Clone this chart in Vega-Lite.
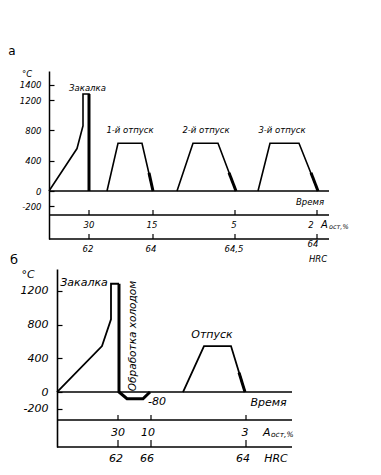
{
  "$schema": "https://vega.github.io/schema/vega-lite/v6.json",
  "padding": {"left": 8, "top": 44, "right": 0, "bottom": 0},
  "bounds": "flush",
  "spacing": 30,
  "config": {
    "view": {"stroke": null},
    "text": {"font": "DejaVu Sans", "fontStyle": "italic", "color": "black"}
  },
  "datasets": {
    "a_thin": [
      {"seg": "q", "i": 1, "x": 0, "t": 0},
      {"seg": "q", "i": 2, "x": 28, "t": 560},
      {"seg": "q", "i": 3, "x": 34, "t": 860},
      {"seg": "q", "i": 4, "x": 34, "t": 1280},
      {"seg": "q", "i": 5, "x": 40, "t": 1280},
      {"seg": "q", "i": 6, "x": 40, "t": 0},
      {"seg": "t1", "i": 1, "x": 58, "t": 0},
      {"seg": "t1", "i": 2, "x": 69, "t": 630},
      {"seg": "t1", "i": 3, "x": 93, "t": 630},
      {"seg": "t1", "i": 4, "x": 104, "t": 0},
      {"seg": "t2", "i": 1, "x": 128, "t": 0},
      {"seg": "t2", "i": 2, "x": 144, "t": 630},
      {"seg": "t2", "i": 3, "x": 169, "t": 630},
      {"seg": "t2", "i": 4, "x": 187, "t": 0},
      {"seg": "t3", "i": 1, "x": 209, "t": 0},
      {"seg": "t3", "i": 2, "x": 221, "t": 630},
      {"seg": "t3", "i": 3, "x": 250, "t": 630},
      {"seg": "t3", "i": 4, "x": 269, "t": 0}
    ],
    "a_thick": [
      {"seg": "q", "i": 1, "x": 40, "t": 1280},
      {"seg": "q", "i": 2, "x": 40, "t": 0},
      {"seg": "t1", "i": 1, "x": 100, "t": 240},
      {"seg": "t1", "i": 2, "x": 104, "t": 0},
      {"seg": "t2", "i": 1, "x": 180, "t": 240},
      {"seg": "t2", "i": 2, "x": 187, "t": 0},
      {"seg": "t3", "i": 1, "x": 262, "t": 240},
      {"seg": "t3", "i": 2, "x": 269, "t": 0}
    ],
    "a_rules": [
      {"x": 0, "x2": 280, "t": 0},
      {"x": 0, "x2": 280, "t": -317},
      {"x": 0, "x2": 280, "t": -633}
    ],
    "a_ticks": [
      {"x": 40, "t": -317, "t2": -250},
      {"x": 104, "t": -317, "t2": -250},
      {"x": 186, "t": -317, "t2": -250},
      {"x": 268, "t": -317, "t2": -250},
      {"x": 40, "t": -633, "t2": -567},
      {"x": 104, "t": -633, "t2": -567},
      {"x": 186, "t": -633, "t2": -567},
      {"x": 268, "t": -633, "t2": -567}
    ],
    "a_text": [
      {"x": 38.5, "t": 1355, "label": "Закалка"},
      {"x": 81, "t": 805, "label": "1-й отпуск"},
      {"x": 157, "t": 805, "label": "2-й отпуск"},
      {"x": 233, "t": 805, "label": "3-й отпуск"},
      {"x": 261, "t": -145, "label": "Время"},
      {"x": 40, "t": -449, "label": "30"},
      {"x": 103, "t": -449, "label": "15"},
      {"x": 185, "t": -449, "label": "5"},
      {"x": 262, "t": -449, "label": "2"},
      {"x": 39, "t": -765, "label": "62"},
      {"x": 102, "t": -765, "label": "64"},
      {"x": 185, "t": -765, "label": "64,5"},
      {"x": 264, "t": -699, "label": "64"},
      {"x": 269, "t": -897, "label": "HRC"},
      {"x": -22, "t": 1544, "label": "°C"}
    ],
    "a_A": [{"x": 272, "t": -449, "label": "A"}],
    "a_sub": [{"x": 280, "t": -478, "label": "ост,%"}],
    "a_panel": [{"x": -37, "t": 1847, "label": "а"}],
    "b_thin": [
      {"seg": "q", "i": 1, "x": 8, "t": 0},
      {"seg": "q", "i": 2, "x": 53, "t": 546},
      {"seg": "q", "i": 3, "x": 62, "t": 863},
      {"seg": "q", "i": 4, "x": 62, "t": 1286},
      {"seg": "q", "i": 5, "x": 70, "t": 1286},
      {"seg": "o", "i": 1, "x": 134, "t": 0},
      {"seg": "o", "i": 2, "x": 155, "t": 546},
      {"seg": "o", "i": 3, "x": 182, "t": 546},
      {"seg": "o", "i": 4, "x": 196, "t": 0}
    ],
    "b_thick": [
      {"seg": "q", "i": 1, "x": 70, "t": 1286},
      {"seg": "q", "i": 2, "x": 70, "t": 0},
      {"seg": "q", "i": 3, "x": 78, "t": -80},
      {"seg": "q", "i": 4, "x": 94, "t": -80},
      {"seg": "q", "i": 5, "x": 101, "t": 0},
      {"seg": "o", "i": 1, "x": 190, "t": 230},
      {"seg": "o", "i": 2, "x": 196, "t": 0}
    ],
    "b_rules": [
      {"x": 8, "x2": 243, "t": 0},
      {"x": 8, "x2": 243, "t": -333},
      {"x": 8, "x2": 243, "t": -653}
    ],
    "b_ticks": [
      {"x": 69, "t": -333, "t2": -273},
      {"x": 102, "t": -333, "t2": -273},
      {"x": 197, "t": -333, "t2": -273},
      {"x": 69, "t": -653, "t2": -570},
      {"x": 102, "t": -653, "t2": -570},
      {"x": 197, "t": -653, "t2": -570}
    ],
    "b_text": [
      {"x": 35, "t": 1298, "label": "Закалка"},
      {"x": 163, "t": 677, "label": "Отпуск"},
      {"x": 108, "t": -119, "label": "-80"},
      {"x": 219.5, "t": -131, "label": "Время"},
      {"x": 69, "t": -487, "label": "30"},
      {"x": 99, "t": -487, "label": "10"},
      {"x": 196, "t": -487, "label": "3"},
      {"x": 67, "t": -796, "label": "62"},
      {"x": 98, "t": -796, "label": "66"},
      {"x": 194, "t": -796, "label": "64"},
      {"x": 227, "t": -796, "label": "HRC"},
      {"x": -21, "t": 1390, "label": "°C"}
    ],
    "b_A": [{"x": 214, "t": -487, "label": "A"}],
    "b_sub": [{"x": 222, "t": -512, "label": "ост,%"}],
    "b_rot": [{"x": 84, "t": 665, "label": "Обработка холодом"}],
    "b_panel": [{"x": -35, "t": 1568, "label": "б"}]
  },
  "vconcat": [
    {
      "width": 280,
      "height": 168,
      "encoding": {
        "x": {"field": "x", "type": "quantitative", "scale": {"domain": [0, 280], "nice": false, "zero": false}, "axis": null},
        "y": {
          "field": "t", "type": "quantitative",
          "scale": {"domain": [-633, 1583], "nice": false, "zero": false},
          "axis": {
            "values": [-200, 0, 400, 800, 1200, 1400], "title": null, "grid": false,
            "tickSize": -5, "labelPadding": 13, "labelFont": "DejaVu Sans", "labelFontStyle": "italic",
            "labelFontSize": 8.5, "labelColor": "black", "domainColor": "black", "tickColor": "black",
            "domainWidth": 1.5, "tickWidth": 1.2, "labelFlush": false, "labelOverlap": false,
            "labelExpr": "datum.value < 0 ? '-' + abs(datum.value) : '' + datum.value"
          }
        }
      },
      "layer": [
        {"data": {"name": "a_rules"}, "mark": {"type": "rule", "color": "black", "strokeWidth": 1.5}, "encoding": {"x2": {"field": "x2"}}},
        {"data": {"name": "a_ticks"}, "mark": {"type": "rule", "color": "black", "strokeWidth": 1.2}, "encoding": {"y2": {"field": "t2"}}},
        {"data": {"name": "a_thin"}, "mark": {"type": "line", "color": "black", "strokeWidth": 1.6}, "encoding": {"detail": {"field": "seg"}, "order": {"field": "i"}}},
        {"data": {"name": "a_thick"}, "mark": {"type": "line", "color": "black", "strokeWidth": 3}, "encoding": {"detail": {"field": "seg"}, "order": {"field": "i"}}},
        {"data": {"name": "a_text"}, "mark": {"type": "text", "fontSize": 8.5}, "encoding": {"text": {"field": "label"}}},
        {"data": {"name": "a_A"}, "mark": {"type": "text", "fontSize": 10, "align": "left"}, "encoding": {"text": {"field": "label"}}},
        {"data": {"name": "a_sub"}, "mark": {"type": "text", "fontSize": 6.5, "align": "left"}, "encoding": {"text": {"field": "label"}}},
        {"data": {"name": "a_panel"}, "mark": {"type": "text", "fontSize": 12, "fontStyle": "normal"}, "encoding": {"text": {"field": "label"}}}
      ]
    },
    {
      "width": 243,
      "height": 178,
      "encoding": {
        "x": {"field": "x", "type": "quantitative", "scale": {"domain": [0, 243], "nice": false, "zero": false}, "axis": null},
        "y": {
          "field": "t", "type": "quantitative",
          "scale": {"domain": [-653, 1461], "nice": false, "zero": false},
          "axis": {
            "values": [-200, 0, 400, 800, 1200], "title": null, "grid": false, "offset": -8,
            "tickSize": -5, "labelPadding": 14, "labelFont": "DejaVu Sans", "labelFontStyle": "italic",
            "labelFontSize": 11, "labelColor": "black", "domainColor": "black", "tickColor": "black",
            "domainWidth": 1.6, "tickWidth": 1.2, "labelFlush": false, "labelOverlap": false,
            "labelExpr": "datum.value < 0 ? '-' + abs(datum.value) : '' + datum.value"
          }
        }
      },
      "layer": [
        {"data": {"name": "b_rules"}, "mark": {"type": "rule", "color": "black", "strokeWidth": 1.6}, "encoding": {"x2": {"field": "x2"}}},
        {"data": {"name": "b_ticks"}, "mark": {"type": "rule", "color": "black", "strokeWidth": 1.2}, "encoding": {"y2": {"field": "t2"}}},
        {"data": {"name": "b_thin"}, "mark": {"type": "line", "color": "black", "strokeWidth": 1.8}, "encoding": {"detail": {"field": "seg"}, "order": {"field": "i"}}},
        {"data": {"name": "b_thick"}, "mark": {"type": "line", "color": "black", "strokeWidth": 3}, "encoding": {"detail": {"field": "seg"}, "order": {"field": "i"}}},
        {"data": {"name": "b_text"}, "mark": {"type": "text", "fontSize": 11}, "encoding": {"text": {"field": "label"}}},
        {"data": {"name": "b_A"}, "mark": {"type": "text", "fontSize": 11, "align": "left"}, "encoding": {"text": {"field": "label"}}},
        {"data": {"name": "b_sub"}, "mark": {"type": "text", "fontSize": 7.5, "align": "left"}, "encoding": {"text": {"field": "label"}}},
        {"data": {"name": "b_rot"}, "mark": {"type": "text", "fontSize": 10.5, "angle": 270}, "encoding": {"text": {"field": "label"}}},
        {"data": {"name": "b_panel"}, "mark": {"type": "text", "fontSize": 13, "fontStyle": "normal"}, "encoding": {"text": {"field": "label"}}}
      ]
    }
  ]
}
